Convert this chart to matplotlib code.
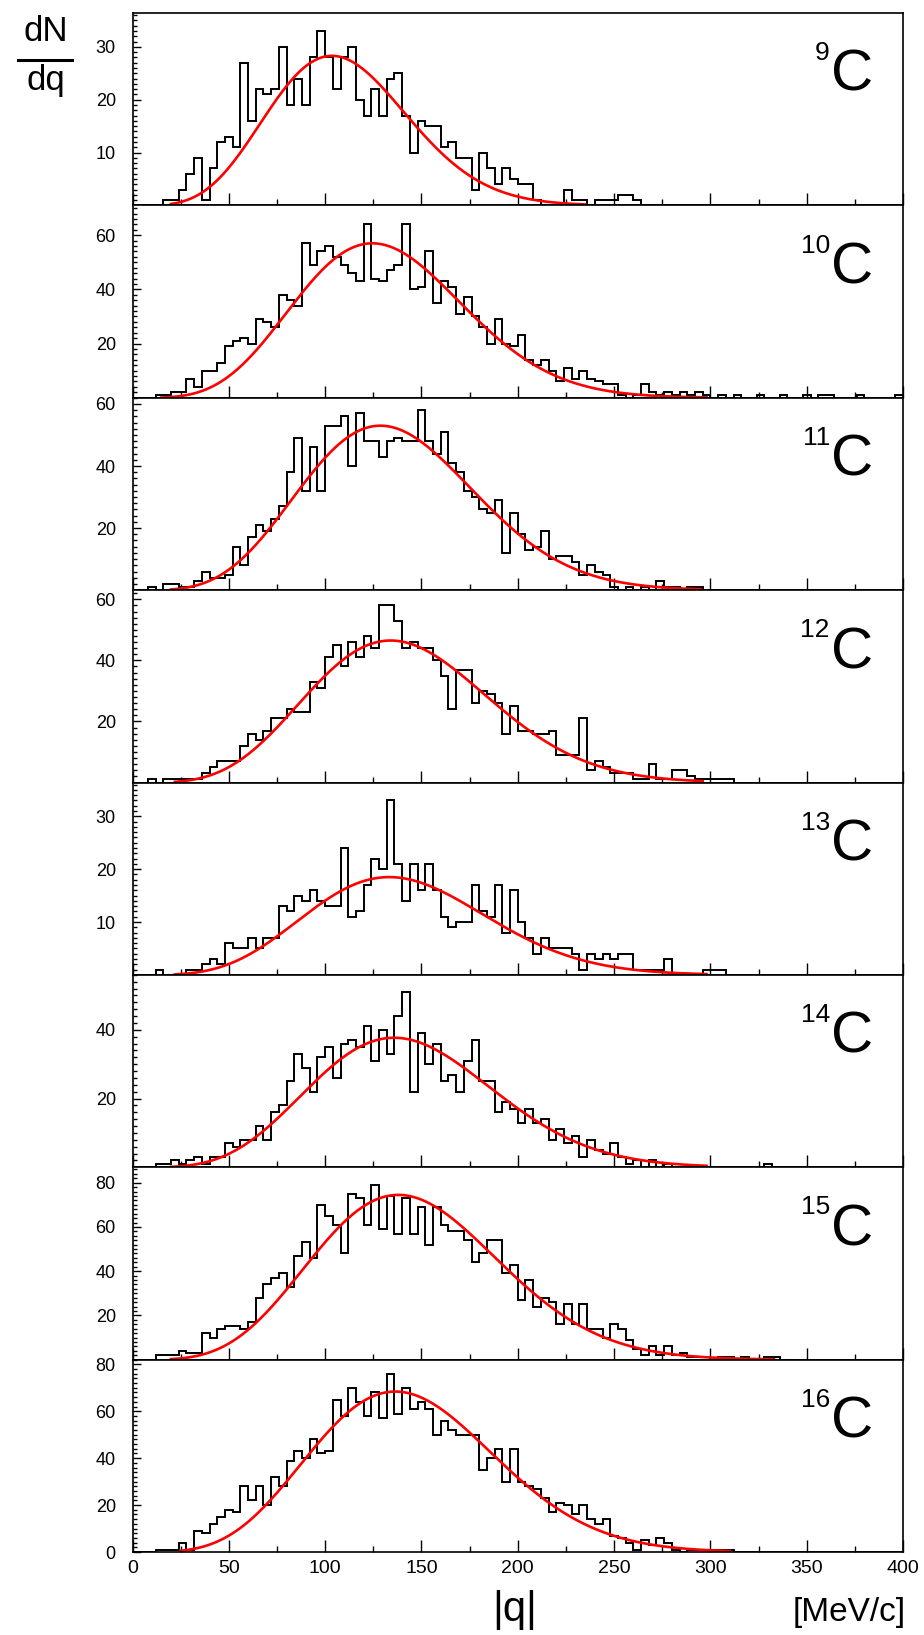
import numpy as np
import matplotlib.pyplot as plt
from matplotlib.lines import Line2D
from matplotlib.ticker import MultipleLocator

plt.rcParams['font.family'] = ['Liberation Sans', 'DejaVu Sans']

# 100 bins of 4 MeV/c between 0 and 400
bin_width = 4
n_bins = 100

nuclei = ["9", "10", "11", "12", "13", "14", "15", "16"]

# counts per bin, starting at q = 0 (trailing zeros left out)
c9 = [0, 0, 0, 0, 1, 1, 3, 6, 9, 1, 7, 12, 13, 11, 27, 16, 22, 21, 22, 30,
      19, 24, 19, 28, 33, 28, 22, 28, 30, 20, 17, 22, 17, 24, 25, 17, 10, 16, 15, 15,
      11, 12, 9, 9, 3, 10, 7, 4, 7, 5, 4, 4, 1, 0, 0, 0, 3, 1, 1, 0,
      1, 1, 1, 2, 2, 1]
c10 = [0, 0, 0, 1, 1, 2, 2, 7, 4, 10, 10, 13, 19, 21, 22, 20, 29, 28, 26, 38,
       36, 34, 57, 49, 54, 56, 52, 49, 46, 43, 64, 44, 43, 47, 49, 64, 40, 41, 54, 35,
       43, 41, 31, 37, 30, 26, 20, 29, 20, 19, 23, 14, 12, 14, 10, 6, 11, 7, 10, 7,
       6, 5, 5, 1, 0, 1, 5, 2, 1, 2, 1, 2, 1, 2, 1, 0, 1, 0, 1, 0,
       0, 1, 0, 0, 1, 0, 0, 1, 0, 1, 1, 0, 0, 0, 1, 0, 0, 0, 0, 1]
c11 = [0, 0, 1, 0, 2, 2, 1, 1, 3, 6, 4, 4, 5, 14, 8, 17, 21, 19, 23, 27,
       38, 49, 32, 46, 32, 53, 53, 56, 40, 57, 48, 48, 43, 48, 49, 48, 48, 58, 48, 44,
       51, 41, 38, 32, 30, 26, 25, 29, 12, 25, 18, 13, 14, 19, 10, 11, 11, 9, 5, 8,
       6, 5, 1, 0, 1, 0, 1, 0, 3, 1, 1, 0, 1, 1]
c12 = [0, 0, 1, 0, 1, 1, 1, 1, 1, 3, 5, 7, 7, 7, 12, 16, 14, 17, 21, 21,
       24, 23, 23, 33, 31, 41, 45, 38, 46, 41, 48, 44, 58, 58, 53, 44, 46, 44, 44, 40,
       35, 24, 37, 37, 26, 30, 29, 26, 16, 25, 17, 17, 16, 16, 17, 9, 9, 9, 21, 4,
       7, 5, 3, 3, 3, 1, 1, 6, 1, 1, 4, 4, 2, 1, 1, 1, 1, 1]
c13 = [0, 0, 0, 1, 0, 0, 0, 1, 1, 2, 3, 2, 6, 5, 5, 7, 5, 7, 7, 13,
       12, 15, 14, 16, 14, 13, 13, 24, 11, 12, 17, 22, 20, 33, 21, 14, 21, 16, 21, 16,
       11, 9, 10, 10, 17, 12, 11, 17, 8, 16, 10, 7, 4, 7, 5, 5, 5, 4, 1, 4,
       3, 4, 3, 4, 4, 1, 1, 1, 1, 3, 0, 0, 0, 0, 1, 1, 1]
c14 = [0, 0, 0, 1, 1, 2, 1, 2, 3, 1, 3, 3, 7, 6, 8, 8, 12, 8, 16, 18,
       25, 33, 29, 22, 32, 35, 26, 36, 37, 35, 41, 31, 40, 33, 44, 51, 22, 39, 30, 36,
       25, 27, 22, 31, 37, 25, 25, 16, 19, 17, 13, 17, 13, 14, 8, 11, 7, 9, 3, 8,
       5, 4, 7, 3, 1, 2, 0, 2, 0, 1, 0, 0, 0, 0, 0, 0, 0, 0, 0, 0,
       0, 0, 1]
c15 = [0, 0, 0, 2, 2, 2, 4, 3, 3, 12, 10, 14, 15, 15, 14, 17, 28, 34, 37, 39,
       33, 47, 53, 46, 70, 65, 61, 48, 75, 73, 61, 79, 59, 74, 57, 73, 57, 69, 52, 69,
       61, 58, 58, 54, 44, 48, 54, 54, 39, 43, 27, 36, 24, 28, 26, 16, 25, 16, 25, 14,
       14, 10, 16, 14, 9, 5, 2, 6, 2, 6, 2, 3, 1, 1, 1, 0, 1, 1, 0, 1,
       0, 0, 1, 1]
c16 = [0, 0, 0, 1, 1, 1, 4, 1, 9, 8, 12, 15, 18, 17, 28, 22, 28, 20, 32, 28,
       39, 43, 40, 48, 42, 43, 65, 58, 70, 64, 58, 68, 57, 76, 59, 70, 61, 64, 61, 50,
       56, 52, 50, 50, 50, 35, 40, 44, 30, 44, 30, 28, 27, 23, 17, 21, 20, 16, 20, 14,
       12, 14, 7, 6, 4, 1, 5, 3, 6, 4, 1, 0, 1, 1, 1, 1, 1, 1]
counts = [c9, c10, c11, c12, c13, c14, c15, c16]

# fitted curves (q^4 * gauss shape): maximum height, position of maximum,
# and the range over which the curve is drawn [MeV/c]
fit_peak = [28.3, 57, 53, 46.5, 18.5, 37.7, 74.5, 68.4]
fit_qmax = [103.5, 124.5, 128.7, 134, 133.3, 135.8, 138, 136.4]
fit_lo = [20, 15, 20, 22, 22, 20, 20, 25]
fit_hi = [235, 298, 295, 296, 298, 298, 333, 310]

# y axis ranges and ticks of each panel
y_top = [36.4, 71, 62, 63, 36.4, 56, 87, 82]
y_step = [10, 20, 20, 20, 10, 20, 20, 20]
y_labels = [[10, 20, 30], [20, 40, 60], [20, 40, 60], [20, 40, 60],
            [10, 20, 30], [20, 40], [20, 40, 60, 80], [0, 20, 40, 60, 80]]

edges = np.arange(n_bins + 1) * bin_width

fig, axes = plt.subplots(8, 1, sharex=True, figsize=(9.24, 16.35), dpi=100)
fig.subplots_adjust(left=0.1434, right=0.9773, top=0.99205, bottom=0.05076, hspace=0)

for i, ax in enumerate(axes):
    c = np.zeros(n_bins)
    c[:len(counts[i])] = counts[i]
    ax.stairs(c, edges, color='black', lw=1.4, baseline=None)

    q = np.linspace(fit_lo[i], fit_hi[i], 400)
    x = q / fit_qmax[i]
    f = fit_peak[i] * x ** 4 * np.exp(-2 * (x ** 2 - 1))
    ax.plot(q, f, color='red', lw=1.9)

    ax.set_xlim(0, 400)
    ax.set_ylim(0, y_top[i])
    ax.set_yticks(y_labels[i], [str(v) for v in y_labels[i]])
    ax.yaxis.set_minor_locator(MultipleLocator(y_step[i] / 10))
    ax.xaxis.set_major_locator(MultipleLocator(50))
    ax.xaxis.set_minor_locator(MultipleLocator(25))
    ax.tick_params(axis='y', which='major', direction='in', length=6, width=1, pad=12, labelsize=13)
    ax.tick_params(axis='y', which='minor', direction='in', length=3, width=1)
    ax.tick_params(axis='x', which='major', direction='in', length=9, width=1, pad=6, labelsize=14)
    ax.tick_params(axis='x', which='minor', direction='in', length=4.5, width=1)
    for s in ax.spines.values():
        s.set_linewidth(1.2)

    ax.text(0.905, 0.755, nuclei[i], transform=ax.transAxes, ha='right', va='baseline', fontsize=19)
    ax.text(0.906, 0.595, "C", transform=ax.transAxes, ha='left', va='baseline', fontsize=42)

fig.text(0.557, 0.0155, "|q|", ha='center', va='center', fontsize=30)
fig.text(0.980, 0.0135, "[MeV/c]", ha='right', va='center', fontsize=24)

fig.text(0.0498, 0.9805, "dN", ha='center', va='center', fontsize=25)
fig.add_artist(Line2D([0.0200, 0.0780], [0.9630, 0.9630], transform=fig.transFigure, color='black', lw=2.2))
fig.text(0.0498, 0.9505, "dq", ha='center', va='center', fontsize=25)

fig.savefig("out.png", dpi=100)
